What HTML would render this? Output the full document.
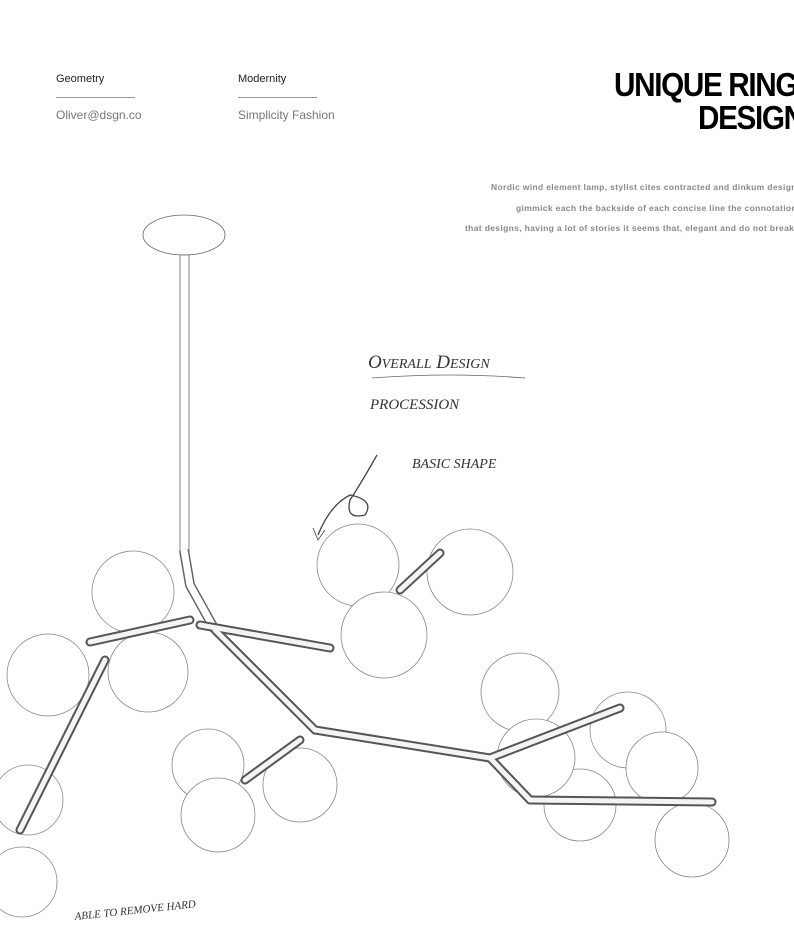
<!DOCTYPE html>
<html><head><meta charset="utf-8"><style>
body{margin:0;width:794px;height:926px;background:#fff;overflow:hidden;position:relative;font-family:"Liberation Sans",sans-serif}
.t{position:absolute;white-space:nowrap}
.p{font-size:8.5px;color:#888;font-weight:bold;letter-spacing:0.35px}
</style></head><body>
<div class="t" style="left:56px;top:73px;font-size:11px;color:#222">Geometry</div>
<div class="t" style="left:238px;top:73px;font-size:11px;color:#222">Modernity</div>
<div style="position:absolute;left:56px;top:97px;width:79px;border-top:1px solid #999"></div>
<div style="position:absolute;left:238px;top:97px;width:79px;border-top:1px solid #999"></div>
<div class="t" style="left:56px;top:108px;font-size:12px;color:#777">Oliver@dsgn.co</div>
<div class="t" style="left:238px;top:108px;font-size:12px;color:#777">Simplicity Fashion</div>
<div class="t" style="left:614px;top:68px;font-size:33px;font-weight:bold;color:#000;letter-spacing:-1.5px;line-height:33px;transform:scaleX(0.9);transform-origin:left">UNIQUE RING</div>
<div class="t" style="left:698px;top:101px;font-size:33px;font-weight:bold;color:#000;letter-spacing:-1.5px;line-height:33px;transform:scaleX(0.9);transform-origin:left">DESIGN</div>
<div class="t p" style="left:491px;top:182px">Nordic wind element lamp, stylist cites contracted and dinkum design</div>
<div class="t p" style="left:516px;top:203px">gimmick each the backside of each concise line the connotation</div>
<div class="t p" style="left:465px;top:223px">that designs, having a lot of stories it seems that, elegant and do not break</div>
<svg width="794" height="926" style="position:absolute;left:0;top:0" fill="none" stroke="#888" stroke-width="0.8">
<g font-family="Liberation Serif,serif" font-style="italic" fill="#333" stroke="none">
<text x="368" y="368" font-size="19">O<tspan font-size="14">VERALL</tspan> D<tspan font-size="14">ESIGN</tspan></text>
<text x="370" y="409" font-size="15">PROCESSION</text>
<text x="412" y="468" font-size="14">BASIC SHAPE</text>
<text x="75" y="920" font-size="11" transform="rotate(-6 75 920)">ABLE TO REMOVE HARD</text>
</g>
<path d="M372 378 Q450 372 525 378" stroke="#666"/>
<path d="M377 455 Q360 485 350 500 Q345 520 365 515 Q375 500 350 495 Q330 505 318 535" stroke="#444" stroke-width="1.3"/>
<path d="M313 528 L318 540 L325 530" stroke="#444"/>
<ellipse cx="184" cy="235" rx="41" ry="20" fill="#fff" stroke="#666"/>
<rect x="180" y="255" width="9" height="300" fill="#fff" stroke="#666"/>
<path d="M184 550 L190 585 L215 630" stroke="#666" stroke-width="10"/>
<path d="M184 550 L190 585 L215 630" stroke="#fff" stroke-width="7"/>
<g>
<circle cx="133" cy="592" r="41" fill="#fff"/>
<circle cx="148" cy="672" r="40" fill="#fff"/>
<circle cx="48" cy="675" r="41" fill="#fff"/>
<circle cx="358" cy="565" r="41" fill="#fff"/>
<circle cx="470" cy="572" r="43" fill="#fff"/>
<circle cx="384" cy="635" r="43" fill="#fff"/>
<circle cx="520" cy="692" r="39" fill="#fff"/>
<circle cx="628" cy="730" r="38" fill="#fff"/>
<circle cx="662" cy="768" r="36" fill="#fff"/>
<circle cx="580" cy="805" r="36" fill="#fff"/>
<circle cx="536" cy="758" r="39" fill="#fff"/>
<circle cx="692" cy="840" r="37" fill="#fff"/>
<circle cx="208" cy="765" r="36" fill="#fff"/>
<circle cx="300" cy="785" r="37" fill="#fff"/>
<circle cx="218" cy="815" r="37" fill="#fff"/>
<circle cx="28" cy="800" r="35" fill="#fff"/>
<circle cx="22" cy="882" r="35" fill="#fff"/>
</g>
<g stroke="#555" stroke-width="9" stroke-linecap="round">
<path d="M190 620 L90 642"/><path d="M200 625 L330 648"/><path d="M215 630 L315 730"/>
<path d="M315 730 L490 758"/><path d="M490 758 L620 708"/><path d="M530 800 L712 802"/>
<path d="M490 758 L530 800"/><path d="M105 660 L20 830"/><path d="M300 740 L245 780"/><path d="M400 590 L440 553"/>
</g>
<g stroke="#f4f4f4" stroke-width="5" stroke-linecap="round">
<path d="M190 620 L90 642"/><path d="M200 625 L330 648"/><path d="M215 630 L315 730"/>
<path d="M315 730 L490 758"/><path d="M490 758 L620 708"/><path d="M530 800 L712 802"/>
<path d="M490 758 L530 800"/><path d="M105 660 L20 830"/><path d="M300 740 L245 780"/><path d="M400 590 L440 553"/>
</g>
</svg>
</body></html>
